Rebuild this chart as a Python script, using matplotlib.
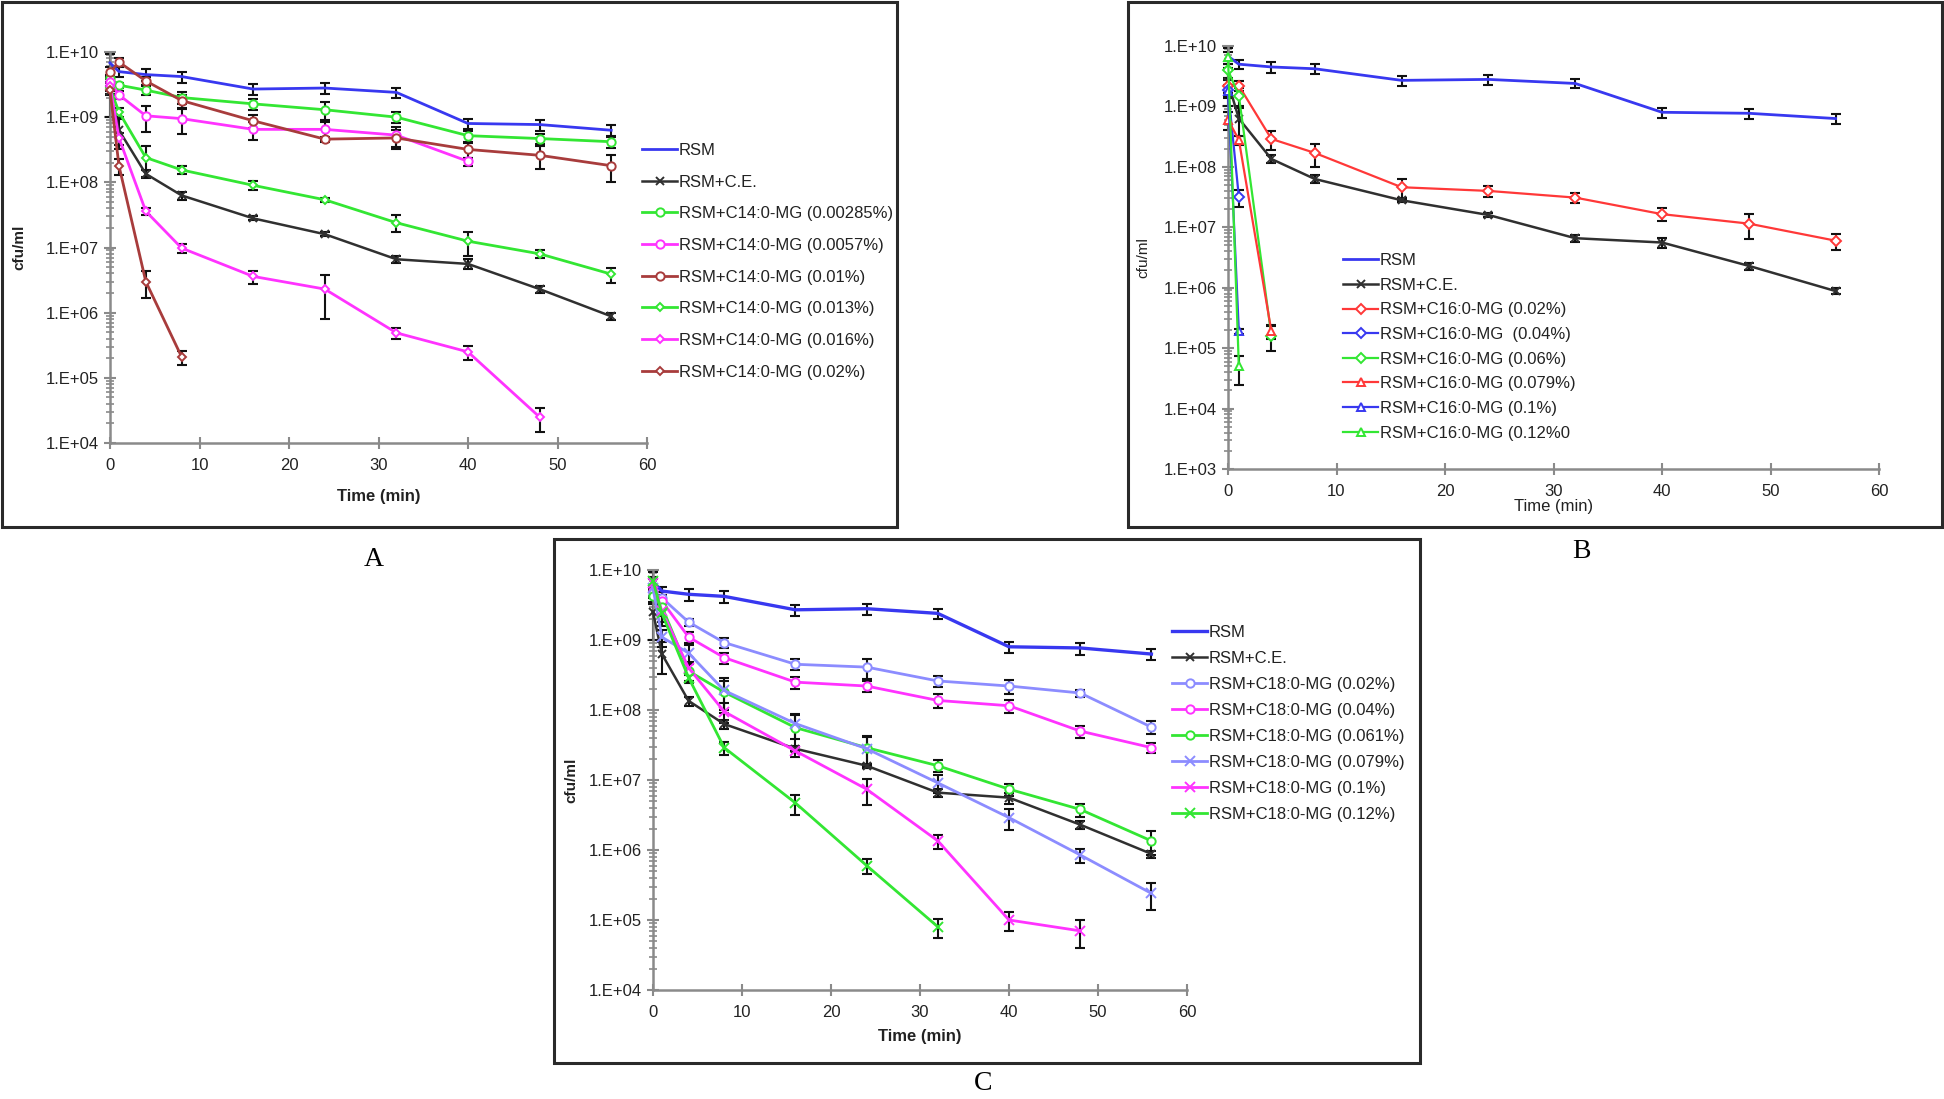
import numpy as np
import matplotlib
matplotlib.use("Agg")
import matplotlib.pyplot as plt
from matplotlib.patches import Rectangle
from matplotlib.ticker import LogLocator, FixedLocator, FuncFormatter, NullFormatter

plt.rcParams['font.family'] = ['Liberation Sans', 'DejaVu Sans']

W, H = 1944, 1099

# sampling times (min)
time = [0, 1, 4, 8, 16, 24, 32, 40, 48, 56]

# controls (same in all three panels)
rsm = [6.8e9, 5.0e9, 4.5e9, 4.2e9, 2.7e9, 2.8e9, 2.4e9, 8.0e8, 7.7e8, 6.3e8]
rsm_err = [2.5e9, 8e8, 9e8, 8e8, 5e8, 5e8, 4e8, 1.5e8, 1.5e8, 1.2e8]
ce = [2.5e9, 6.3e8, 1.35e8, 6.3e7, 2.8e7, 1.6e7, 6.6e6, 5.6e6, 2.3e6, 8.8e5]
ce_err = [1.5e9, 3e8, 2e7, 9e6, 2e6, 1e6, 8e5, 1e6, 3e5, 1e5]

# panel A: C14:0-MG
a_labels = ["RSM+C14:0-MG (0.00285%)", "RSM+C14:0-MG (0.0057%)", "RSM+C14:0-MG (0.01%)",
            "RSM+C14:0-MG (0.013%)", "RSM+C14:0-MG (0.016%)", "RSM+C14:0-MG (0.02%)"]
a_vals = [
    [4.0e9, 3.1e9, 2.6e9, 2.0e9, 1.6e9, 1.3e9, 1.0e9, 5.2e8, 4.7e8, 4.2e8],
    [3.5e9, 2.2e9, 1.05e9, 9.5e8, 6.5e8, 6.5e8, 5.3e8, 2.1e8],
    [4.9e9, 7.0e9, 3.6e9, 1.8e9, 8.8e8, 4.6e8, 4.8e8, 3.2e8, 2.6e8, 1.8e8],
    [2.8e9, 1.2e9, 2.4e8, 1.55e8, 9.0e7, 5.4e7, 2.4e7, 1.25e7, 8.0e6, 3.9e6],
    [3.0e9, 4.8e8, 3.6e7, 9.8e6, 3.6e6, 2.3e6, 4.9e5, 2.5e5, 2.5e4],
    [2.6e9, 1.8e8, 3.0e6, 2.1e5],
]
a_errs = [
    [5e8, 3e8, 4e8, 4e8, 3e8, 4e8, 2e8, 1e8, 8e7, 8e7],
    [5e8, 3e8, 4.5e8, 4e8, 2e8, 2e8, 1.8e8, 3e7],
    [1e9, 1e9, 5e8, 4e8, 2e8, 4e7, 1.5e8, 8e7, 1e8, 8e7],
    [5e8, 2e8, 1.2e8, 2e7, 1.5e7, 4e6, 7e6, 5e6, 1e6, 1e6],
    [5e8, 1e8, 4e6, 1.5e6, 8e5, 1.5e6, 1e5, 6e4, 1e4],
    [4e8, 5e7, 1.3e6, 5e4],
]

# panel B: C16:0-MG
b_labels = ["RSM+C16:0-MG (0.02%)", "RSM+C16:0-MG  (0.04%)", "RSM+C16:0-MG (0.06%)",
            "RSM+C16:0-MG (0.079%)", "RSM+C16:0-MG (0.1%)", "RSM+C16:0-MG (0.12%0"]
b_vals = [
    [2.2e9, 2.2e9, 2.9e8, 1.7e8, 4.6e7, 4.0e7, 3.1e7, 1.65e7, 1.15e7, 6.0e6],
    [1.9e9, 3.2e7],
    [4.0e9, 1.5e9, 1.6e5],
    [6.0e8, 2.8e8, 1.9e5],
    [1.8e9, 1.9e5],
    [6.5e9, 5.0e4],
]
b_errs = [
    [5e8, 4e8, 1e8, 7e7, 1.8e7, 8e6, 6e6, 4e6, 5e6, 1.8e6],
    [4e8, 1e7],
    [1e9, 5e8, 7e4],
    [2e8, 5e7, 5e4],
    [4e8, 2e4],
    [1.5e9, 2.5e4],
]

# panel C: C18:0-MG
c_labels = ["RSM+C18:0-MG (0.02%)", "RSM+C18:0-MG (0.04%)", "RSM+C18:0-MG (0.061%)",
            "RSM+C18:0-MG (0.079%)", "RSM+C18:0-MG (0.1%)", "RSM+C18:0-MG (0.12%)"]
c_vals = [
    [4.5e9, 4.0e9, 1.8e9, 9.2e8, 4.5e8, 4.1e8, 2.6e8, 2.2e8, 1.75e8, 5.7e7],
    [5.0e9, 3.6e9, 1.1e9, 5.6e8, 2.5e8, 2.2e8, 1.37e8, 1.15e8, 5.0e7, 2.9e7],
    [4.3e9, 3.0e9, 3.6e8, 1.8e8, 5.6e7, 2.9e7, 1.6e7, 7.4e6, 3.8e6, 1.35e6],
    [5.5e9, 1.1e9, 6.5e8, 1.9e8, 6.4e7, 2.8e7, 9.1e6, 2.9e6, 8.5e5, 2.4e5],
    [6.5e9, 2.6e9, 4.0e8, 9.5e7, 2.6e7, 7.4e6, 1.35e6, 1.0e5, 7.0e4],
    [7.0e9, 2.4e9, 2.9e8, 2.9e7, 4.7e6, 6.0e5, 8.0e4],
]
c_errs = [
    [1e9, 8e8, 2e8, 1.5e8, 8e7, 1.3e8, 5e7, 5e7, 2e7, 1.2e7],
    [1e9, 8e8, 2e8, 1e8, 5e7, 4e7, 3e7, 2.5e7, 1e7, 5e6],
    [1e9, 8e8, 1e8, 8e7, 3e7, 1.3e7, 3e6, 1.5e6, 8e5, 5e5],
    [5e8, 3e8, 2e8, 1e8, 2.5e7, 1.3e7, 2.5e6, 1e6, 2e5, 1e5],
    [1e9, 8e8, 8e7, 3e7, 5e6, 3e6, 3e5, 3e4, 3e4],
    [1e9, 8e8, 5e7, 6e6, 1.5e6, 1.5e5, 2.5e4],
]

BLUE = "#3838f0"
BLACK = "#303030"
GREEN = "#33e633"
MAGENTA = "#ff33ff"
BROWN = "#a83c3c"
RED = "#ff3838"
LBLUE = "#8c8cff"

a_styles = [(GREEN, "o", 6), (MAGENTA, "o", 6), (BROWN, "o", 6),
            (GREEN, "D", 4), (MAGENTA, "D", 4), (BROWN, "D", 4)]
b_styles = [(RED, "D", 5), (BLUE, "D", 5), (GREEN, "D", 5),
            (RED, "^", 6), (BLUE, "^", 6), (GREEN, "^", 6)]
c_styles = [(LBLUE, "o", 6), (MAGENTA, "o", 6), (GREEN, "o", 6),
            (LBLUE, "x", 7), (MAGENTA, "x", 7), (GREEN, "x", 7)]

fig = plt.figure(figsize=(W / 100, H / 100), dpi=100)


def box(x0, y0, x1, y1):
    fig.patches.append(Rectangle((x0 / W, 1 - y1 / H), (x1 - x0) / W, (y1 - y0) / H,
                                 transform=fig.transFigure, fill=False,
                                 edgecolor="#2a2a2a", linewidth=2.2))


def new_ax(x0, x1, y0, y1):
    return fig.add_axes([x0 / W, 1 - y1 / H, (x1 - x0) / W, (y1 - y0) / H])


def series(ax, y, err, color, marker, ms, label, lw=2.0):
    t = time[:len(y)]
    y = np.array(y)
    e = np.array(err)
    lo = np.minimum(e, 0.9 * y)
    ax.errorbar(t, y, yerr=[lo, e], fmt="none", ecolor="#111111",
                elinewidth=1.5, capsize=3.5, capthick=1.5, zorder=2, clip_on=False)
    ax.plot(t, y, color=color, lw=lw, marker=marker, ms=ms, mfc="white",
            mec=color, mew=1.4, label=label, zorder=3, clip_on=False)


def style_axis(ax, ylo, bold, xpad):
    ax.set_yscale("log")
    ax.set_xlim(0, 60)
    ax.set_ylim(ylo, 1e10)
    for s in ["top", "right"]:
        ax.spines[s].set_visible(False)
    for s in ["left", "bottom"]:
        ax.spines[s].set_color("#8a8a8a")
        ax.spines[s].set_linewidth(1.8)
    ax.xaxis.set_major_locator(FixedLocator([0, 10, 20, 30, 40, 50, 60]))
    ax.yaxis.set_major_locator(LogLocator(base=10, numticks=20))
    ax.yaxis.set_minor_locator(LogLocator(base=10, subs=np.arange(2, 10), numticks=20))
    ax.yaxis.set_minor_formatter(NullFormatter())
    ax.yaxis.set_major_formatter(FuncFormatter(lambda v, p: "1.E+%02d" % round(np.log10(v))))
    ax.tick_params(axis="both", which="major", direction="inout", length=9, width=1.5,
                   color="#8a8a8a", labelsize=12, labelcolor="#222222")
    ax.tick_params(axis="y", which="minor", direction="inout", length=6, width=1.2,
                   color="#8a8a8a")
    ax.tick_params(axis="x", pad=6)
    w = "bold" if bold else "normal"
    ax.set_xlabel("Time (min)", fontsize=12, fontweight=w, color="#222222", labelpad=xpad)
    ax.set_ylabel("cfu/ml", fontsize=11, fontweight=w, color="#222222")


def legend(ax, x, y, spacing):
    ax.legend(loc="upper left", bbox_to_anchor=(x / W, 1 - y / H),
              bbox_transform=fig.transFigure, frameon=False, fontsize=12,
              handlelength=2.1, handletextpad=0.1, borderpad=0, borderaxespad=0,
              labelspacing=spacing, numpoints=1, labelcolor="#222222")


# ---- panel A ----
box(2, 2, 897, 527)
axA = new_ax(110, 647, 52, 443)
series(axA, rsm, rsm_err, BLUE, None, 0, "RSM", lw=2.0)
series(axA, ce, ce_err, BLACK, "x", 6, "RSM+C.E.", lw=1.8)
for y, e, (c, m, ms), lab in zip(a_vals, a_errs, a_styles, a_labels):
    series(axA, y, e, c, m, ms, lab)
style_axis(axA, 1e4, True, 12)
axA.yaxis.set_label_coords(-0.155, 0.5)
legend(axA, 642, 143, 1.0)
fig.text(374 / W, 1 - 560 / H, "A", fontsize=20, family="Liberation Serif", ha="center", va="center")

# ---- panel B ----
box(1128, 2, 1942, 527)
axB = new_ax(1228, 1879, 46, 469)
series(axB, rsm, rsm_err, BLUE, None, 0, "RSM", lw=2.0)
series(axB, ce, ce_err, BLACK, "x", 6, "RSM+C.E.", lw=1.8)
for y, e, (c, m, ms), lab in zip(b_vals, b_errs, b_styles, b_labels):
    series(axB, y, e, c, m, ms, lab, lw=1.6)
style_axis(axB, 1e3, False, 0)
axB.yaxis.set_label_coords(-0.12, 0.5)
legend(axB, 1343, 253, 0.58)
fig.text(1581 / W, 1 - 551 / H, "B", fontsize=20, family="Liberation Serif", ha="center", va="center")

# ---- panel C ----
box(554, 539, 1420, 1063)
axC = new_ax(653, 1187, 570, 990)
series(axC, rsm, rsm_err, BLUE, None, 0, "RSM", lw=2.4)
series(axC, ce, ce_err, BLACK, "x", 6, "RSM+C.E.", lw=1.8)
for y, e, (c, m, ms), lab in zip(c_vals, c_errs, c_styles, c_labels):
    series(axC, y, e, c, m, ms, lab)
style_axis(axC, 1e4, True, 7)
axC.yaxis.set_label_coords(-0.14, 0.5)
legend(axC, 1172, 625, 0.66)
fig.text(983 / W, 1 - 1084 / H, "C", fontsize=20, family="Liberation Serif", ha="center", va="center")

fig.savefig("out.png", dpi=100, facecolor="white")
